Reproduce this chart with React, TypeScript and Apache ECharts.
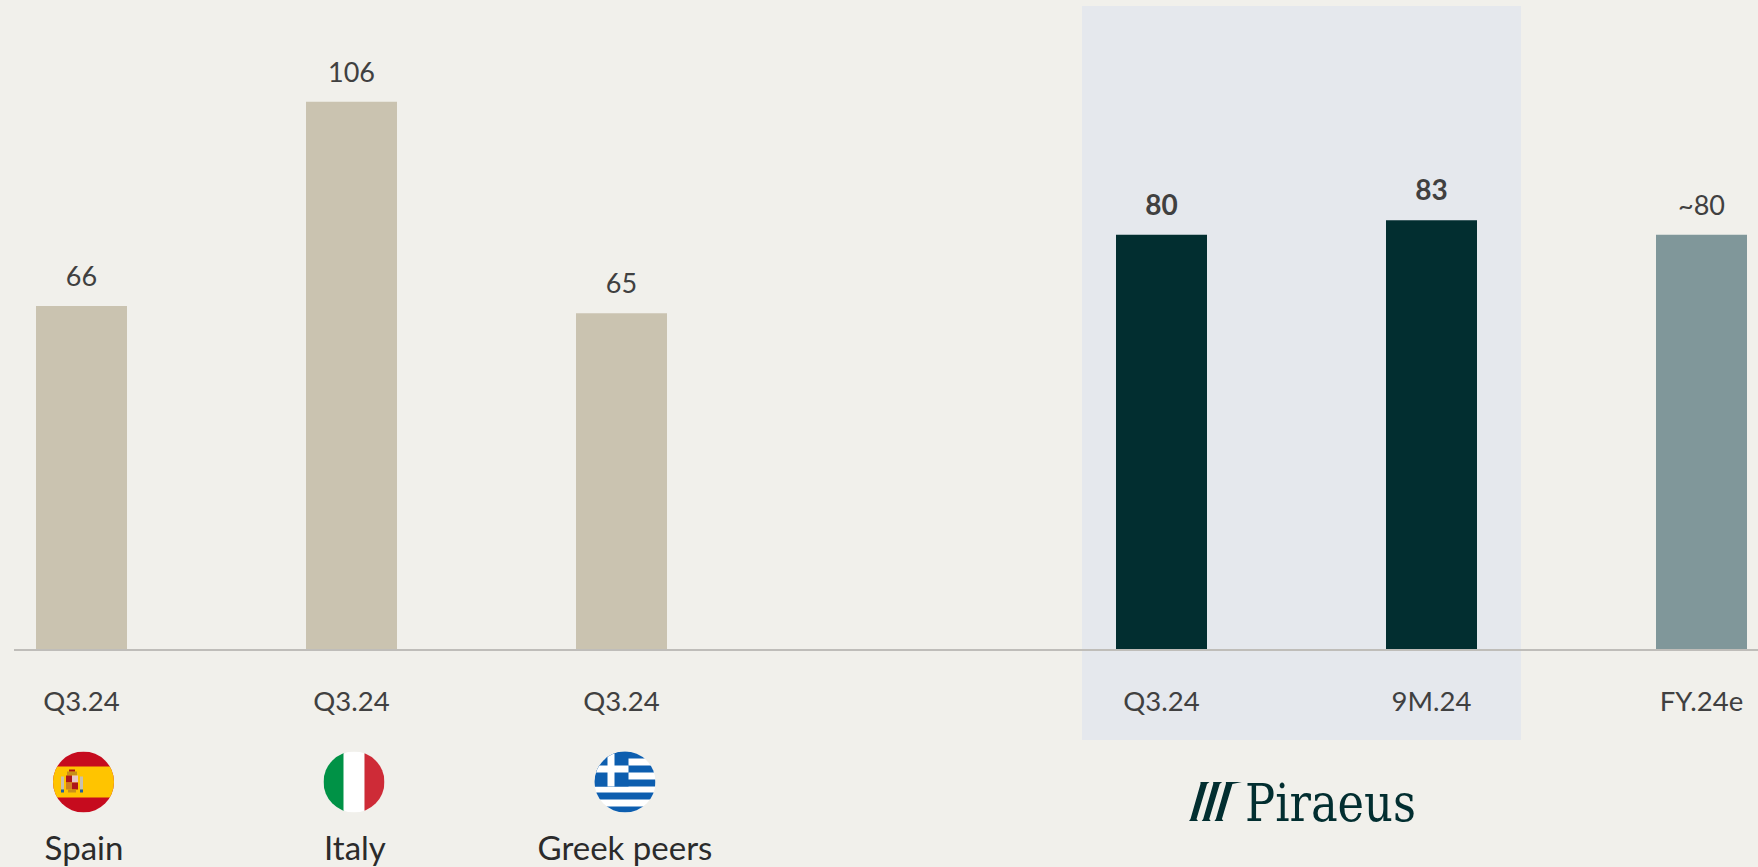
import React, { useEffect, useRef } from "react";
import * as echarts from "echarts";

const periods = ["Q3.24", "Q3.24", "Q3.24", "", "Q3.24", "9M.24", "FY.24e"];
const values: (number | null)[] = [66.4, 105.9, 65, null, 80.2, 83, 80.2];
const valueLabels = ["66", "106", "65", "", "80", "83", "~80"];
const boldFlags = [false, false, false, false, true, true, false];
const barColors = ["#cac3b0", "#cac3b0", "#cac3b0", "", "#022e30", "#022e30", "#80979a"];
const countries = ["Spain", "Italy", "Greek peers"];

const FONT = "Lato, 'Noto Sans', sans-serif";
const BASE_Y = 649;
const uri = (s: string) => "data:image/svg+xml;charset=utf-8," + encodeURIComponent(s);
const flagSvg = (id: string, body: string) =>
  uri(`<svg xmlns="http://www.w3.org/2000/svg" width="122" height="122" viewBox="0 0 61 61"><defs><clipPath id="${id}"><circle cx="30.5" cy="30.5" r="30.5"/></clipPath></defs><g clip-path="url(#${id})">${body}</g></svg>`);

const spain = flagSvg("es",
  `<rect width="61" height="61" fill="#c60b1e"/><rect y="15" width="61" height="31" fill="#ffc400"/>
   <rect x="14" y="20" width="10" height="4" fill="#c8901a"/><rect x="16" y="18" width="6" height="2" fill="#ad1519"/>
   <rect x="13" y="24" width="6" height="7" fill="#ad1519"/><rect x="19" y="24" width="6" height="7" fill="#e8c8c8"/>
   <rect x="13" y="31" width="6" height="7" fill="#d08020"/><rect x="19" y="31" width="6" height="7" fill="#ad1519"/>
   <rect x="8" y="25" width="3" height="13" fill="#c8c0b0"/><rect x="27" y="25" width="3" height="13" fill="#c8c0b0"/>
   <rect x="8" y="38" width="3" height="3" fill="#2060a0"/><rect x="27" y="38" width="3" height="3" fill="#2060a0"/>
   <rect x="15" y="38" width="8" height="3" fill="#c8901a"/>`);
const italy = flagSvg("it",
  `<rect width="21" height="61" fill="#009246"/><rect x="20" width="21" height="61" fill="#ffffff"/><rect x="41" width="20" height="61" fill="#ce2b37"/>`);
const greece = flagSvg("gr",
  `<rect width="61" height="61" fill="#ffffff"/>
   <rect y="0" width="61" height="7" fill="#0d5eaf"/><rect y="14" width="61" height="7" fill="#0d5eaf"/>
   <rect y="28" width="61" height="7" fill="#0d5eaf"/><rect y="41" width="61" height="7" fill="#0d5eaf"/>
   <rect y="55" width="61" height="6" fill="#0d5eaf"/>
   <rect width="34" height="35" fill="#0d5eaf"/><rect x="13" width="7" height="35" fill="#ffffff"/><rect y="14" width="34" height="7" fill="#ffffff"/>`);

export default function App() {
  const ref = useRef<HTMLDivElement>(null);
  useEffect(() => {
    const chart = echarts.init(ref.current!, null, { renderer: "svg" });
    const nameX = [84, 355, 625];
    const flagX = [83.5, 354, 625];
    const slashes = [0, 1, 2].map((i) => {
      const x = 1189 + i * 12.7;
      const extra = i === 2 ? 7 : 0;
      return {
        type: "polygon",
        z: 5,
        shape: {
          points: [
            [x, 821],
            [x + 9, 821],
            [x + 7.5, 819],
            [x + 18, 784],
            [x + 20.5 + extra, 782],
            [x + 11.5, 782],
            [x + 11.5, 784],
            [x + 1.5, 819],
          ],
        },
        style: { fill: "#022e30" },
      };
    });
    chart.setOption({
      animation: false,
      backgroundColor: "#f1f0eb",
      grid: { left: -53.5, width: 1890, top: 29, height: BASE_Y - 29, containLabel: false, outerBoundsMode: "none" },
      xAxis: {
        type: "category",
        data: periods,
        axisLine: { show: false },
        axisTick: { show: false },
        axisLabel: { interval: 0, color: "#404040", fontFamily: FONT, fontSize: 27.5, margin: 37, hideOverlap: false },
      },
      yAxis: { type: "value", min: 0, max: 120, show: false, splitLine: { show: false } },
      series: [
        {
          type: "bar",
          barWidth: 91,
          data: values.map((v, i) => ({
            value: v,
            itemStyle: { color: barColors[i] || "transparent" },
            label: {
              show: v !== null,
              position: "top",
              distance: 17,
              formatter: valueLabels[i],
              color: "#404040",
              fontFamily: FONT,
              fontSize: boldFlags[i] ? 28 : 27,
              fontWeight: boldFlags[i] ? "bold" : "normal",
            },
          })),
        },
      ],
      graphic: [
        { type: "rect", z: 0, shape: { x: 1082, y: 6, width: 439, height: 734 }, style: { fill: "#e5e8ed" } },
        { type: "line", z: 5, shape: { x1: 14, y1: BASE_Y + 1, x2: 1758, y2: BASE_Y + 1 }, style: { stroke: "#bfbdb9", lineWidth: 2 } },
        ...countries.map((c, i) => ({
          type: "text",
          z: 5,
          style: { text: c, x: nameX[i], y: 847, align: "center", verticalAlign: "middle", fill: "#2b2b2b", font: `33px ${FONT}` },
        })),
        ...[spain, italy, greece].map((img, i) => ({
          type: "image",
          z: 5,
          style: { image: img, x: flagX[i] - 30.5, y: 751.5, width: 61, height: 61 },
        })),
        ...slashes,
        {
          type: "text",
          z: 5,
          x: 1245,
          y: 828.5,
          scaleX: 0.94,
          style: { text: "Piraeus", x: 0, y: 0, align: "left", verticalAlign: "bottom", fill: "#022e30", font: "53px 'DejaVu Serif Condensed', 'DejaVu Serif', serif" },
        },
      ],
    });
    return () => chart.dispose();
  }, []);
  return <div ref={ref} style={{ position: "absolute", left: 0, top: 0, width: 1758, height: 867 }} />;
}
